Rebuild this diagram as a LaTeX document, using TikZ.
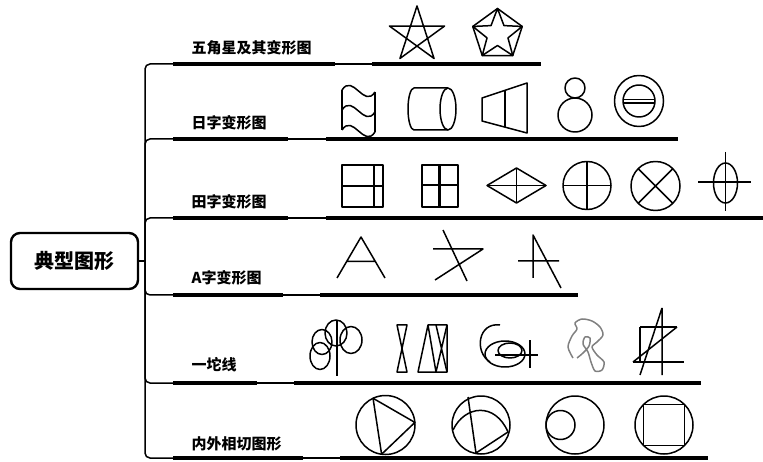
\documentclass[tikz,border=0pt]{standalone}
\usepackage{fontspec}
\newfontfamily\cjk{Noto Sans CJK SC}
\usetikzlibrary{positioning}
\tikzset{
    % thin connector line
    link/.style={line width=1.5pt, rounded corners=5pt},
    % thick underline of a topic
    bar/.style={line width=4.2pt},
    % strokes of the small figures
    fig/.style={line width=1.5pt, line join=round},
}

\begin{document}
\begin{tikzpicture}[x=1pt,y=-1pt,
rootnode/.style={draw, line width=2.4pt, rounded corners=9pt, minimum width=127pt, minimum height=56pt, font=\cjk\bfseries\fontsize{20}{20}\selectfont},
topicnode/.style={inner sep=0pt, font=\cjk\bfseries\fontsize{15}{15}\selectfont},
]
\useasboundingbox (0,0) rectangle (763,462);

%Nodes
\node[rootnode](root) at (74.5,261){典型图形};
\coordinate (hub) at (145,261);

\coordinate (u1) at (173,64);  \coordinate (a1) at (335,64);  \coordinate (b1) at (372,64);  \coordinate (c1) at (541,64);
\coordinate (u2) at (173,139); \coordinate (a2) at (288,139); \coordinate (b2) at (326,139); \coordinate (c2) at (678,139);
\coordinate (u3) at (173,218); \coordinate (a3) at (288,218); \coordinate (b3) at (326,218); \coordinate (c3) at (763,218);
\coordinate (u4) at (173,295); \coordinate (a4) at (283,295); \coordinate (b4) at (320,295); \coordinate (c4) at (578,295);
\coordinate (u5) at (173,383); \coordinate (a5) at (257,383); \coordinate (b5) at (294,383); \coordinate (c5) at (701,383);
\coordinate (u6) at (173,458); \coordinate (a6) at (303,458); \coordinate (b6) at (340,458); \coordinate (c6) at (708,458);

\node[topicnode, above right=9pt and 18.5pt of u1](star){五角星及其变形图};
\node[topicnode, above right=9pt and 18.5pt of u2](ri){日字变形图};
\node[topicnode, above right=9pt and 18.5pt of u3](tian){田字变形图};
\node[topicnode, above right=10pt and 18.5pt of u4](aa){A字变形图};
\node[topicnode, above right=11pt and 18.5pt of u5](line){一坨线};
\node[topicnode, above right=7pt and 18.5pt of u6](tangent){内外相切图形};

% connectors
\draw[link] (root) -- (hub);
\draw[link] (hub) |- (u1);
\draw[link] (hub) |- (u2);
\draw[link] (hub) |- (u3);
\draw[link] (hub) |- (u4);
\draw[link] (hub) |- (u5);
\draw[link] (hub) |- (u6);

\draw[bar] (u1) -- (a1); \draw[link] (a1) -- (b1); \draw[bar] (b1) -- (c1);
\draw[bar] (u2) -- (a2); \draw[link] (a2) -- (b2); \draw[bar] (b2) -- (c2);
\draw[bar] (u3) -- (a3); \draw[link] (a3) -- (b3); \draw[bar] (b3) -- (c3);
\draw[bar] (u4) -- (a4); \draw[link] (a4) -- (b4); \draw[bar] (b4) -- (c4);
\draw[bar] (u5) -- (a5); \draw[link] (a5) -- (b5); \draw[bar] (b5) -- (c5);
\draw[bar] (u6) -- (a6); \draw[link] (a6) -- (b6); \draw[bar] (b6) -- (c6);

% row 1: stars
\draw[fig, shift={(417,35)}] (270:29) -- (54:29) -- (198:29) -- (342:29) -- (126:29) -- cycle;
\draw[fig, shift={(497.5,34.5)}] (270:26) -- (342:26) -- (54:26) -- (126:26) -- (198:26) -- cycle;
\draw[fig, shift={(497.5,34.5)}] (270:26) -- (306:11) -- (342:26) -- (18:11) -- (54:26) -- (90:11)
    -- (126:26) -- (162:11) -- (198:26) -- (234:11) -- cycle;

% row 2
\draw[fig] (342,90) -- (342,130) (375,92) -- (375,132);
\draw[fig] (342,90) .. controls (353,73) and (364,109) .. (375,92);
\draw[fig] (342,110) .. controls (353,93) and (364,129) .. (375,112);
\draw[fig] (342,130) .. controls (353,113) and (364,149) .. (375,132);
\draw[fig] (448,88) -- (414,88) arc[start angle=270, end angle=90, x radius=6, y radius=21] -- (448,130);
\draw[fig] (448,109) ellipse[x radius=8, y radius=21];
\draw[fig] (482,98) -- (527,83) -- (527,133) -- (482,121) -- cycle;
\draw[fig] (505,90.3) -- (505,127.1);
\draw[fig] (575,88) circle[radius=10];
\draw[fig] (575,115) circle[radius=17];
\draw[fig] (639,101) ellipse[x radius=24.5, y radius=25.5];
\draw[fig] (639,101) circle[radius=16];
\draw[fig] (623.1,99.5) -- (654.9,99.5) (623.1,103) -- (654.9,103);

% row 3
\draw[fig] (342,165) rectangle (383,207);
\draw[fig] (342,186) -- (383,186) (374,165) -- (374,207);
\draw[fig, line width=2.8pt] (422,165) rectangle (458,207);
\draw[fig, line width=2.8pt] (422,185) -- (458,185) (439.5,165) -- (439.5,207);
\draw[fig] (487,185.5) -- (516.5,168) -- (546,185.5) -- (516.5,203) -- cycle;
\draw[fig] (487,185.5) -- (546,185.5) (516.5,168) -- (516.5,203);
\draw[fig] (587,185.5) circle[radius=24];
\draw[fig] (563,185.5) -- (611,185.5) (587,161.5) -- (587,209.5);
\draw[fig] (655.5,186) circle[radius=24.5];
\draw[fig] (638.2,168.7) -- (672.8,203.3) (672.8,168.7) -- (638.2,203.3);
\draw[fig] (725.5,183) ellipse[x radius=12, y radius=20];
\draw[fig] (698,182) -- (751,182) (725.5,152) -- (725.5,211);

% row 4
\draw[fig] (337,278) -- (361,237) -- (385,278) (346.5,261.5) -- (375.5,261.5);
\draw[fig] (433,249) -- (483,249) -- (435,280) (443,230) -- (467,281);
\draw[fig] (533,278) -- (533,235) -- (561,288) (518,261) -- (559,261);

% row 5
\draw[fig] (336,333) ellipse[x radius=11, y radius=13];
\draw[fig] (351,340) ellipse[x radius=11, y radius=13.5];
\draw[fig] (322,342) ellipse[x radius=10, y radius=12.5];
\draw[fig] (320,356) ellipse[x radius=10, y radius=13.5];
\draw[fig] (337,320) -- (337,376);
\draw[fig] (397,325) -- (407,325) -- (397,372) -- (407,372) -- cycle;
\draw[fig] (418,372) -- (428,325) -- (447,325) -- (447,372) -- cycle;
\draw[fig] (428,325) -- (436,372) (436,325) -- (447,372) (447,325) -- (436,372);
\draw[fig] (500,325) .. controls (478,322) and (474,352) .. (490,362);
\draw[fig] (505,354) ellipse[x radius=20, y radius=13];
\draw[fig] (510,350.5) ellipse[x radius=12, y radius=7.5];
\draw[fig] (495,355) -- (538,355) (530,340) -- (530,368);
\draw[fig, gray] plot[smooth] coordinates {(573,358) (568,347) (572,336) (577,329) (575,323) (582,319) (592,321) (600,327) (603,335) (597,342) (592,347) (597,355) (604,362) (602,370) (595,371) (591,362) (588,352) (583,344) (585,337) (590,338) (589,346) (583,353) (577,358)};
\draw[fig] (640,327) -- (677,327) (633,362) -- (684,362) (640,327) -- (640,362);
\draw[fig] (662,308) -- (662,375) (677,327) -- (633,362) (662,308) -- (640,375);

% row 6
\draw[fig] (385.5,425) circle[radius=29.5];
\draw[fig, shift={(385.5,425)}] (245:29.5) -- (355:29.5) -- (97.6:29.5) -- cycle;
\draw[fig] (481,425) circle[radius=29];
\draw[fig] (468,397) -- (476,453) -- (508,432);
\draw[fig] (453,430) .. controls (465,405) and (495,402) .. (508,432);
\draw[fig] (575,425) circle[radius=29];
\draw[fig] (560.5,425) circle[radius=14.5];
\draw[fig] (664,425) circle[radius=29];
\draw[fig] (643.5,404.5) rectangle (684.5,445.5);

\end{tikzpicture}
\end{document}
